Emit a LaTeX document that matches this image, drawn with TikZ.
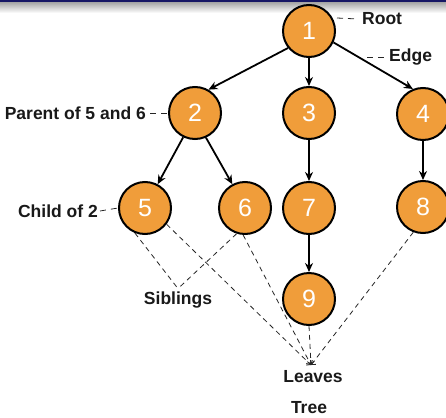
\documentclass[tikz,border=0pt]{standalone}
\usepackage{fontspec}
\setmainfont{Liberation Sans}
\usetikzlibrary{arrows.meta}
\definecolor{nodeor}{RGB}{240,157,58}
\definecolor{navybar}{RGB}{22,22,100}
\begin{document}
\begin{tikzpicture}[x=1pt,y=-1pt,
  tnode/.style={circle,draw=black,line width=2pt,fill=nodeor,minimum size=52pt,inner sep=0pt,text=white,font=\fontsize{25}{25}\selectfont},
  lbl/.style={font=\bfseries\fontsize{17.5}{17.5}\selectfont,inner sep=0pt,text=black!90},
  edgearrow/.style={line width=1.8pt,-{Stealth[length=9pt,width=8pt]}},
  dashline/.style={dash pattern=on 5pt off 4pt,line width=0.8pt,draw=black!85},
  leafline/.style={dashline,-{Straight Barb[length=3pt,width=7pt]}},
]
\useasboundingbox (0,0) rectangle (446,417);
\fill[white] (0,0) rectangle (446,417);
% top bar
\fill[navybar] (0,0) rectangle (446,3);
\shade[top color=gray!65,bottom color=white] (0,3) rectangle (446,13);

% tree nodes
\node[tnode] (n1) at (309,31) {1};
\node[tnode] (n2) at (195,113) {2};
\node[tnode] (n3) at (309,113) {3};
\node[tnode] (n4) at (423,114) {4};
\node[tnode] (n5) at (145,208) {5};
\node[tnode] (n6) at (245,208) {6};
\node[tnode] (n7) at (309,208) {7};
\node[tnode] (n8) at (423,207) {8};
\node[tnode] (n9) at (309,299) {9};

% edges
\draw[edgearrow] (n1.219) -- (n2.60);
\draw[edgearrow] (n1.south) -- (n3.north);
\draw[edgearrow] (n1.-25) -- (n4.112);
\draw[edgearrow] (n2.244) -- (n5.62);
\draw[edgearrow] (n2.294) -- (n6.118);
\draw[edgearrow] (n3.south) -- (n7.north);
\draw[edgearrow] (n4.south) -- (n8.north);
\draw[edgearrow] (n7.south) -- (n9.north);

% labels
\node[lbl,anchor=west] (root) at (362,19) {Root};
\node[lbl,anchor=west] (edge) at (389,57) {Edge};
\node[lbl,anchor=east] (par) at (146,113) {Parent of 5 and 6};
\node[lbl,anchor=east] (ch) at (98,211) {Child of 2};
\node[lbl] (sib) at (178,300) {Siblings};
\node[lbl] (lvs) at (313,377) {Leaves};
\node[lbl] (tree) at (309,408) {Tree};

% label pointers
\coordinate (rootd) at (337,18);
\coordinate (edged) at (367,57);
\draw[dashline,dash pattern=on 6pt off 5pt] (rootd) -- ([xshift=-4pt]root.west);
\draw[dashline,dash pattern=on 6pt off 5pt] (edged) -- ([xshift=-2pt]edge.west);
\draw[dashline,dash pattern=on 6pt off 5pt] ([xshift=4pt]par.east) -- (n2.west);
\draw[dashline,dash pattern=on 6pt off 5pt] ([xshift=2pt]ch.east) -- (n5.west);

% siblings
\draw[dashline] (n5.-112) -- ([yshift=3pt]sib.north);
\draw[dashline] (n6.-108) -- ([yshift=3pt]sib.north);

% leaves
\coordinate (lv) at (311,365);
\draw[leafline] (n5.-37) -- (lv);
\draw[leafline] (n6.-94) -- (lv);
\draw[leafline] (n9.south) -- (lv);
\draw[leafline] (n8.-111) -- (lv);
\end{tikzpicture}
\end{document}
